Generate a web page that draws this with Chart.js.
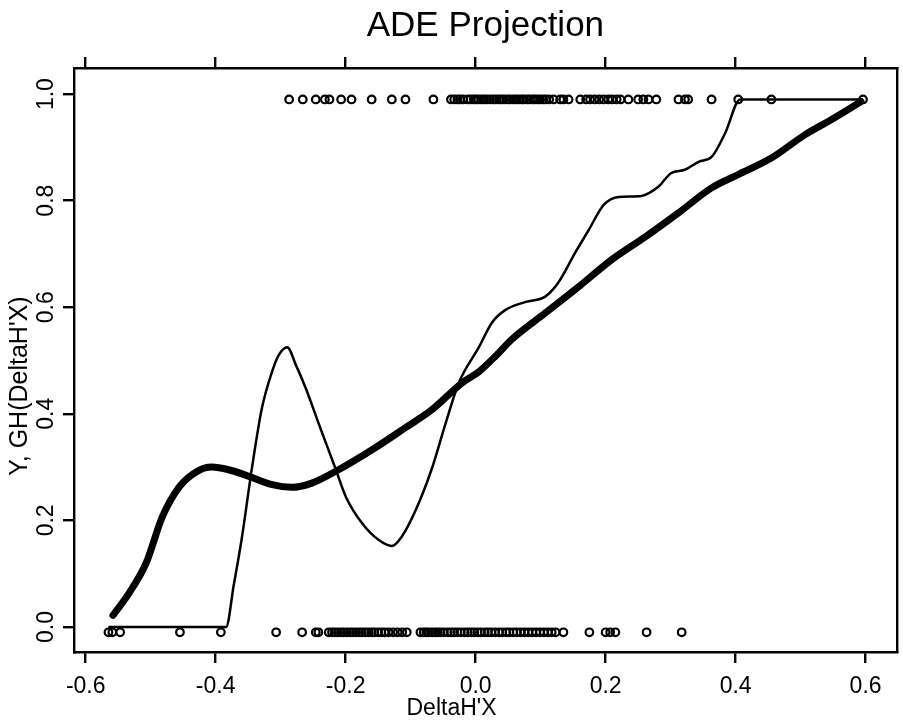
<!DOCTYPE html>
<html lang="en">
<head>
  <meta charset="UTF-8" />
  <title>ADE Projection</title>
  <script src="https://cdn.jsdelivr.net/npm/chart.js"></script>
  <style>
    html, body {
      margin: 0;
      padding: 0;
      background-color: #fff;
    }
    .chart-container {
      width: 903px;
      height: 721px;
    }
  </style>
</head>
<body>
  <div class="chart-container">
    <canvas id="graficoADE" width="903" height="721"></canvas>
  </div>

  <script>
    // tick positions
    const xTicks = [-0.6, -0.4, -0.2, 0.0, 0.2, 0.4, 0.6];
    const yTicks = [0.0, 0.2, 0.4, 0.6, 0.8, 1.0];

    // thin curve
    const thinX = [-0.565, -0.384, -0.372, -0.360, -0.344, -0.329, -0.313, -0.303, -0.290, -0.276,
      -0.262, -0.241, -0.215, -0.200, -0.175, -0.149, -0.129, -0.114, -0.092, -0.068,
      -0.046, -0.026, 0.005, 0.025, 0.046, 0.077, 0.107, 0.127, 0.153, 0.174,
      0.197, 0.220, 0.255, 0.281, 0.301, 0.322, 0.343, 0.363, 0.384, 0.407, 0.596];
    const thinY = [0.0, 0.0, 0.08, 0.165, 0.30, 0.41, 0.48, 0.51, 0.525, 0.49,
      0.45, 0.38, 0.295, 0.245, 0.195, 0.163, 0.152, 0.169, 0.22, 0.295,
      0.383, 0.458, 0.525, 0.571, 0.595, 0.610, 0.620, 0.646, 0.702, 0.745,
      0.792, 0.807, 0.809, 0.826, 0.852, 0.858, 0.873, 0.882, 0.927, 0.990, 0.990];

    // thick curve
    const thickX = [-0.558, -0.533, -0.507, -0.482, -0.456, -0.430, -0.406, -0.380, -0.354, -0.313,
      -0.283, -0.252, -0.211, -0.160, -0.108, -0.068, -0.021, 0.005, 0.032, 0.055,
      0.107, 0.158, 0.209, 0.261, 0.312, 0.363, 0.404, 0.455, 0.507, 0.547, 0.593];
    const thickY = [0.022, 0.064, 0.120, 0.207, 0.263, 0.291, 0.300, 0.295, 0.285, 0.267,
      0.262, 0.270, 0.295, 0.332, 0.374, 0.407, 0.458, 0.479, 0.510, 0.539,
      0.589, 0.638, 0.689, 0.732, 0.777, 0.824, 0.849, 0.880, 0.924, 0.952, 0.986];

    // observations Y = 1 and Y = 0
    const topY = 0.99;
    const topX = [-0.287, -0.266, -0.246, -0.232, -0.225, -0.207, -0.191, -0.160, -0.129, -0.108,
      -0.065, -0.038, -0.033, -0.028, -0.024, -0.019, -0.012, -0.008, -0.003, 0.000,
      0.004, 0.009, 0.013, 0.017, 0.022, 0.027, 0.031, 0.036, 0.040, 0.044,
      0.049, 0.053, 0.058, 0.062, 0.066, 0.071, 0.074, 0.079, 0.083, 0.088,
      0.091, 0.095, 0.099, 0.104, 0.108, 0.113, 0.120, 0.130, 0.135, 0.143,
      0.161, 0.170, 0.176, 0.183, 0.190, 0.197, 0.204, 0.210, 0.217, 0.223,
      0.235, 0.250, 0.258, 0.266, 0.278, 0.312, 0.322, 0.327, 0.363, 0.404, 0.455, 0.596];
    const botY = -0.01;
    const botX = [-0.565, -0.559, -0.547, -0.455, -0.392, -0.307, -0.267, -0.246, -0.242,
      -0.226, -0.221, -0.217, -0.212, -0.207, -0.203, -0.198, -0.193, -0.189, -0.184,
      -0.179, -0.175, -0.170, -0.165, -0.160, -0.156, -0.150, -0.145, -0.140, -0.134,
      -0.127, -0.120, -0.113, -0.106,
      -0.085, -0.080, -0.076, -0.072, -0.067, -0.062, -0.058, -0.054, -0.049, -0.043,
      -0.038, -0.033, -0.028, -0.023, -0.017, -0.012, -0.007, -0.002, 0.003, 0.008,
      0.014, 0.019, 0.024, 0.030, 0.036, 0.041, 0.047, 0.052, 0.058, 0.063,
      0.069, 0.075, 0.081, 0.087, 0.093, 0.099, 0.105, 0.111, 0.117, 0.123,
      0.135, 0.175, 0.200, 0.207, 0.215, 0.263, 0.317];

    const xMin = -0.618, xMax = 0.648;
    const yMin = -0.047, yMax = 1.049;

    const fuente = "'Liberation Sans', Arial, Helvetica, sans-serif";
    const negro = '#000';
    const tituloX = "DeltaH'X";
    const tituloY = "Y, GH(DeltaH'X)";

    const pares = (xs, ys) => xs.map((x, i) => ({ x: x, y: ys[i] }));
    const fila = (xs, y) => xs.map(x => ({ x: x, y: y }));

    const fijarX = s => { s.ticks = xTicks.map(v => ({ value: v })); };
    const fijarY = s => { s.ticks = yTicks.map(v => ({ value: v })); };

    const ejeBase = {
      type: 'linear',
      border: { display: true, color: negro, width: 2.4 },
      grid: { drawOnChartArea: false, drawTicks: true, tickLength: 11, color: negro, lineWidth: 2.4 }
    };

    // axis titles: placed like the original (x centred on the page, y a bit below the plot middle)
    const titulosEjes = {
      id: 'titulosEjes',
      afterDraw(chart) {
        const c = chart.ctx;
        const area = chart.chartArea;
        c.save();
        c.fillStyle = negro;
        c.textAlign = 'center';
        c.textBaseline = 'middle';
        c.font = '23px ' + fuente;
        c.fillText(tituloX, chart.width / 2, 709);
        c.translate(20, (area.top + area.bottom) / 2 + 26);
        c.rotate(-Math.PI / 2);
        c.font = '25px ' + fuente;
        c.fillText(tituloY, 0, 0);
        c.restore();
      }
    };

    const ctx = document.getElementById('graficoADE').getContext('2d');
    new Chart(ctx, {
      type: 'scatter',
      data: {
        datasets: [
          {
            data: pares(thinX, thinY),
            showLine: true,
            borderColor: negro,
            borderWidth: 2.5,
            pointRadius: 0,
            cubicInterpolationMode: 'monotone',
            fill: false
          },
          {
            data: pares(thickX, thickY),
            showLine: true,
            borderColor: negro,
            borderWidth: 7,
            pointRadius: 0,
            cubicInterpolationMode: 'monotone',
            borderCapStyle: 'round',
            fill: false
          },
          {
            data: fila(topX, topY),
            showLine: false,
            pointRadius: 3.8,
            pointBorderWidth: 2.2,
            pointBorderColor: negro,
            pointBackgroundColor: 'transparent'
          },
          {
            data: fila(botX, botY),
            showLine: false,
            pointRadius: 3.8,
            pointBorderWidth: 2.2,
            pointBorderColor: negro,
            pointBackgroundColor: 'transparent'
          }
        ]
      },
      options: {
        responsive: false,
        animation: false,
        layout: { padding: 0 },
        plugins: {
          legend: { display: false },
          tooltip: { enabled: false }
        },
        scales: {
          x: {
            ...ejeBase,
            position: 'bottom',
            min: xMin, max: xMax,
            afterBuildTicks: fijarX,
            afterFit: s => { s.height = 69; },
            ticks: {
              color: negro, padding: 10,
              font: { family: fuente, size: 23 },
              callback: v => v.toFixed(1)
            }
          },
          x2: {
            ...ejeBase,
            position: 'top',
            min: xMin, max: xMax,
            afterBuildTicks: fijarX,
            afterFit: s => { s.height = 68; },
            ticks: { display: false },
            title: {
              display: true, text: 'ADE Projection', color: negro,
              font: { family: fuente, size: 35 },
              padding: { top: 5, bottom: 0 }
            }
          },
          y: {
            ...ejeBase,
            position: 'left',
            min: yMin, max: yMax,
            afterBuildTicks: fijarY,
            afterFit: s => { s.width = 74; },
            ticks: {
              color: negro, padding: 0,
              minRotation: 90, maxRotation: 90,
              crossAlign: 'center',
              font: { family: fuente, size: 23 },
              callback: v => v.toFixed(1)
            }
          },
          y2: {
            type: 'linear',
            position: 'right',
            min: yMin, max: yMax,
            afterFit: s => { s.width = 5; },
            border: { display: true, color: negro, width: 2.4 },
            grid: { display: false },
            ticks: { display: false }
          }
        }
      },
      plugins: [titulosEjes]
    });
  </script>
</body>
</html>
